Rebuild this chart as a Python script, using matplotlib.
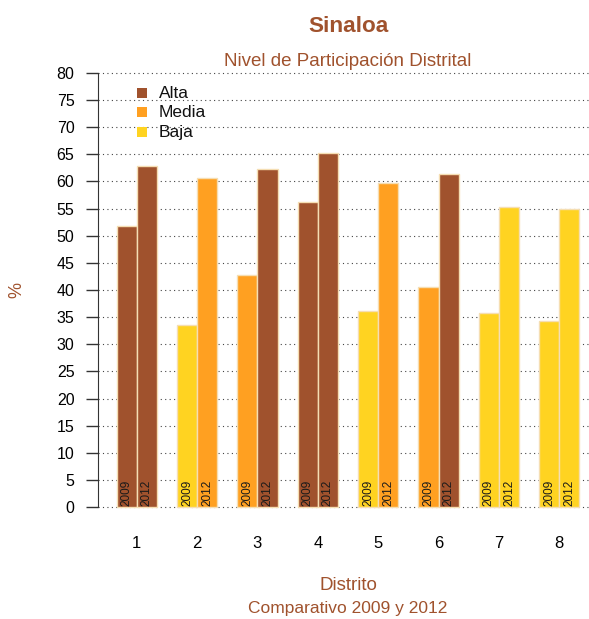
import numpy as np
import matplotlib.pyplot as plt
from matplotlib.patches import Rectangle

plt.rcParams['font.family'] = ['Liberation Sans', 'DejaVu Sans']

# data
districts = ['1', '2', '3', '4', '5', '6', '7', '8']
v2009 = [51.8, 33.5, 42.8, 56.2, 36.1, 40.6, 35.8, 34.3]
v2012 = [62.9, 60.6, 62.3, 65.3, 59.7, 61.4, 55.3, 54.9]
nivel2009 = ['Alta', 'Baja', 'Media', 'Alta', 'Baja', 'Media', 'Baja', 'Baja']
nivel2012 = ['Alta', 'Media', 'Alta', 'Alta', 'Media', 'Alta', 'Baja', 'Baja']
niveles = ['Alta', 'Media', 'Baja']
years = ['2009', '2012']

colores = {'Alta': '#A0522D', 'Media': '#FFA021', 'Baja': '#FFD321'}
brown = '#A0522D'

W, H = 589, 619
fig = plt.figure(figsize=(W / 100, H / 100), dpi=100)
ax = fig.add_axes([98 / W, 1 - 524.4 / H, 500 / W, (524.4 - 55.6) / H])

n = len(districts)
x09 = 1.5 + 3 * np.arange(n)
x12 = 2.5 + 3 * np.arange(n)

# dotted grid behind bars
for h in range(0, 81, 5):
    ax.axhline(h, color='#444444', linestyle=(0, (1, 3)), linewidth=0.8, zorder=0)

ax.bar(x09, v2009, width=1, color=[colores[c] for c in nivel2009],
       edgecolor='#F5DEB3', linewidth=1, zorder=2)
ax.bar(x12, v2012, width=1, color=[colores[c] for c in nivel2012],
       edgecolor='#F5DEB3', linewidth=1, zorder=2)

for i in range(n):
    ax.text(x09[i], 0.2, years[0], rotation=90, ha='center', va='bottom',
            fontsize=8.5, color='#1a1a1a', zorder=3)
    ax.text(x12[i], 0.2, years[1], rotation=90, ha='center', va='bottom',
            fontsize=8.5, color='#1a1a1a', zorder=3)

ax.set_xlim(0.08, 24.92)
ax.set_ylim(-3.2, 83.2)

for s in ['top', 'right', 'bottom']:
    ax.spines[s].set_visible(False)
ax.spines['left'].set_bounds(0, 80)
ax.spines['left'].set_color('#333333')
ax.set_yticks(range(0, 81, 5))
ax.tick_params(axis='y', length=9, width=1, color='#333333', pad=8, labelsize=11.5)
ax.set_xticks(2 + 3 * np.arange(n))
ax.set_xticklabels(districts)
ax.tick_params(axis='x', length=0, pad=8, labelsize=12)

# legend, drawn by hand
leg_y = [93, 112.5, 132]
for k, yy in zip(niveles, leg_y):
    fig.add_artist(Rectangle((137 / W, 1 - (yy + 5) / H), 10 / W, 10 / H,
                             transform=fig.transFigure, facecolor=colores[k],
                             edgecolor='none'))
    fig.text(159 / W, 1 - yy / H, k, ha='left', va='center', fontsize=12.5,
             color='#111111')

fig.text(348 / W, 1 - 26 / H, 'Sinaloa', ha='center', va='center',
         fontsize=16.2, fontweight='bold', color=brown)
fig.text(348 / W, 1 - 62 / H, 'Nivel de Participación Distrital', ha='center',
         va='center', fontsize=13.5, color=brown)
fig.text(348 / W, 1 - 586 / H, 'Distrito', ha='center', va='center',
         fontsize=13.5, color=brown)
fig.text(348 / W, 1 - 609 / H, 'Comparativo 2009 y 2012', ha='center', va='center',
         fontsize=12.5, color=brown)
fig.text(17 / W, 1 - 290 / H, '%', ha='center', va='center', rotation=90,
         fontsize=13, color=brown)

fig.savefig('out.png', dpi=100)
